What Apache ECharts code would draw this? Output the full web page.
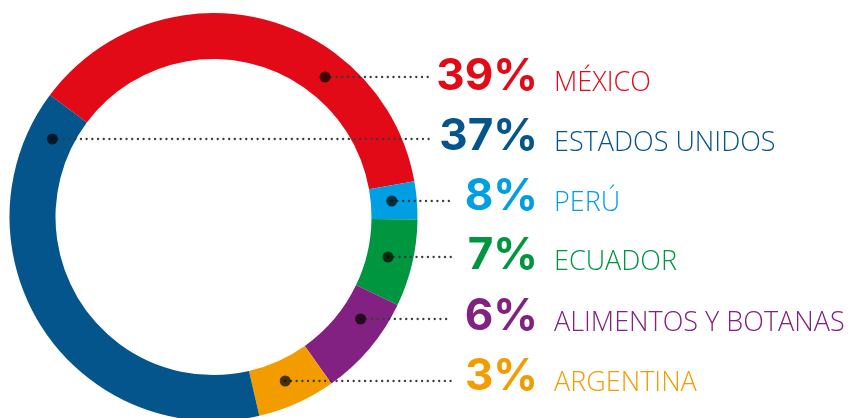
<!DOCTYPE html>
<html><head><meta charset="utf-8">
<script src="https://cdn.jsdelivr.net/npm/echarts@6/dist/echarts.min.js"></script>
<style>html,body{margin:0;padding:0;background:#fff}#c{width:856px;height:418px}</style>
</head><body><div id="c"></div>
<script>
// ---- data ----
const categories = ['MÉXICO', 'ESTADOS UNIDOS', 'PERÚ', 'ECUADOR', 'ALIMENTOS Y BOTANAS', 'ARGENTINA'];
const labelPercent = [39, 37, 8, 7, 6, 3];
// ring segments, clockwise, with the share of the ring each occupies as drawn in the reference
const ringOrder = ['MÉXICO', 'PERÚ', 'ECUADOR', 'ALIMENTOS Y BOTANAS', 'ARGENTINA', 'ESTADOS UNIDOS'];
const ringShare = [37.0, 3.0, 6.9, 8.1, 6.2, 38.8];

// ---- styles / layout ----
const colorOf = {
  'MÉXICO': '#e30a17',
  'ESTADOS UNIDOS': '#03558c',
  'PERÚ': '#009fe3',
  'ECUADOR': '#009640',
  'ALIMENTOS Y BOTANAS': '#822181',
  'ARGENTINA': '#f39c00'
};
const CX = 213.5, CY = 217, R_IN = 158, R_OUT = 204, START = 143.3;
const rowBaseline = [93, 153, 213, 272, 333, 393];
const lineY = [77, 139, 201, 257, 319, 381];
const lineEndX = [429, 429, 453, 453, 451, 451];
const pctRightX = 538, nameLeftX = 554;
const PCT_CAP = 33, NAME_CAP = 18;

// slice angular ranges (degrees clockwise from 12 o'clock)
const total = ringShare.reduce((a, b) => a + b, 0);
const ranges = {};
let a0 = 90 - START;
ringOrder.forEach((n, i) => {
  const span = ringShare[i] / total * 360;
  ranges[n] = [a0, a0 + span];
  a0 += span;
});
function inRange(n, ang) {
  const [s, e] = ranges[n];
  for (const k of [-360, 0, 360]) { if (ang + k >= s && ang + k <= e) return true; }
  return false;
}
const RM = (R_IN + R_OUT) / 2 - 2;
const dots = categories.map((n, i) => {
  const dy = lineY[i] - CY;
  const dx = Math.sqrt(Math.max(0, RM * RM - dy * dy));
  const angR = Math.atan2(dx, -dy) * 180 / Math.PI;
  if (inRange(n, angR)) return [CX + dx, lineY[i]];
  return [CX - dx, lineY[i]];
});

const chart = echarts.init(document.getElementById('c'), null, { renderer: 'canvas' });
const series = [];
series.push({
  type: 'pie',
  center: [CX, CY],
  radius: [R_IN, R_OUT],
  startAngle: START,
  clockwise: true,
  silent: true,
  label: { show: false },
  labelLine: { show: false },
  emphasis: { disabled: true },
  z: 1,
  data: ringOrder.map((n, i) => ({ name: n, value: ringShare[i], itemStyle: { color: colorOf[n] } }))
});
categories.forEach((n, i) => {
  series.push({
    type: 'line',
    silent: true,
    symbol: 'none',
    z: 2,
    lineStyle: { color: '#3a3a3a', width: 2.3, type: [0.1, 5.6], cap: 'round', opacity: 1 },
    data: [dots[i], [lineEndX[i], lineY[i]]]
  });
});
series.push({
  type: 'scatter',
  silent: true,
  z: 3,
  symbolSize: 11,
  itemStyle: { color: 'rgba(0,0,0,0.7)', opacity: 1 },
  data: dots
});
series.push({
  type: 'scatter',
  silent: true,
  z: 4,
  symbolSize: 0,
  itemStyle: { opacity: 1 },
  data: categories.map((n, i) => ({
    value: [pctRightX, rowBaseline[i] - PCT_CAP / 2],
    label: {
      show: true, position: 'left', distance: 0, opacity: 1,
      formatter: labelPercent[i] + '%',
      color: colorOf[n], fontFamily: 'Inter', fontWeight: 'bold', fontSize: 44
    }
  }))
});
series.push({
  type: 'scatter',
  silent: true,
  z: 4,
  symbolSize: 0,
  itemStyle: { opacity: 1 },
  data: categories.map((n, i) => ({
    value: [nameLeftX, rowBaseline[i] - NAME_CAP / 2 - 0.5],
    label: {
      show: true, position: 'right', distance: 0, opacity: 1,
      formatter: n,
      color: colorOf[n], fontFamily: 'Open Sans', fontWeight: 300, fontSize: 27
    }
  }))
});

chart.setOption({
  animation: false,
  grid: { left: 0, right: 0, top: 0, bottom: 0 },
  xAxis: { type: 'value', min: 0, max: 856, show: false },
  yAxis: { type: 'value', min: 0, max: 418, inverse: true, show: false },
  series: series
});
</script>
</body></html>
